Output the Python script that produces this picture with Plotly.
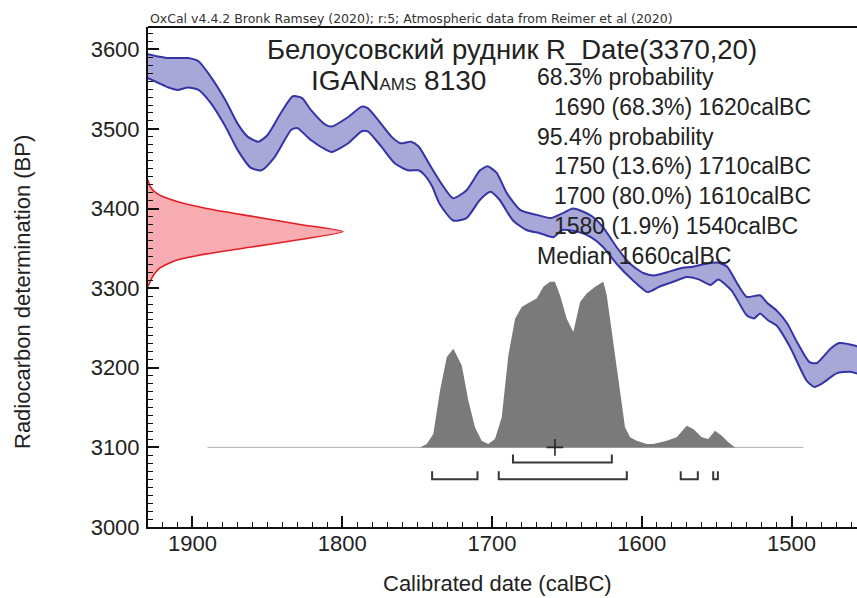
import plotly.graph_objects as go

# ---------------- data ----------------
# Calibration curve envelope (calBC year, BP)
up_year = [1930, 1923, 1916, 1903, 1896, 1888, 1878, 1870, 1863, 1856, 1850, 1841, 1833, 1827, 1821,
           1811, 1807, 1796, 1787, 1783, 1776, 1767, 1761, 1754, 1749, 1741, 1734, 1726, 1717, 1708,
           1703, 1697, 1690, 1681, 1670, 1661, 1653, 1646, 1639, 1633, 1626, 1617, 1608, 1599, 1592,
           1583, 1574, 1566, 1556, 1549, 1543, 1536, 1530, 1521, 1516, 1510, 1503, 1496, 1488, 1483,
           1474, 1468, 1458, 1455]
up_bp = [3594, 3591, 3589, 3589, 3585, 3566, 3536, 3507, 3490, 3484, 3492, 3520, 3541, 3539, 3524,
         3505, 3503, 3515, 3528, 3526, 3511, 3490, 3482, 3484, 3478, 3453, 3432, 3413, 3423, 3448,
         3453, 3445, 3419, 3398, 3392, 3388, 3394, 3400, 3396, 3390, 3377, 3352, 3331, 3319, 3316,
         3320, 3325, 3327, 3331, 3332, 3327, 3305, 3289, 3291, 3281, 3272, 3256, 3231, 3207, 3206,
         3224, 3231, 3228, 3226]
lo_year = [1930, 1923, 1916, 1910, 1903, 1896, 1888, 1878, 1870, 1861, 1854, 1845, 1834, 1830, 1821,
           1811, 1807, 1796, 1787, 1783, 1774, 1765, 1756, 1749, 1745, 1740, 1735, 1726, 1717, 1708,
           1701, 1695, 1686, 1677, 1668, 1659, 1653, 1643, 1634, 1626, 1617, 1606, 1596, 1588, 1579,
           1570, 1562, 1554, 1549, 1540, 1530, 1525, 1521, 1516, 1510, 1501, 1490, 1485, 1479, 1470,
           1461, 1455]
lo_bp = [3564, 3558, 3552, 3549, 3552, 3549, 3533, 3503, 3474, 3451, 3448, 3465, 3499, 3501, 3486,
         3474, 3471, 3482, 3497, 3497, 3478, 3457, 3448, 3448, 3442, 3428, 3406, 3385, 3388, 3411,
         3421, 3411, 3385, 3373, 3369, 3364, 3373, 3371, 3364, 3352, 3331, 3310, 3295, 3302, 3308,
         3314, 3311, 3304, 3311, 3297, 3266, 3262, 3268, 3260, 3253, 3226, 3184, 3176, 3181, 3193,
         3195, 3192]

# Radiocarbon date R_Date(3370,20): relative probability along BP
rdate_bp = [3436, 3428, 3419, 3409, 3400, 3390, 3380, 3371, 3361, 3352, 3343, 3335, 3325, 3313, 3302]
rdate_rel = [0.0, 0.01, 0.045, 0.145, 0.30, 0.54, 0.78, 1.0, 0.78, 0.54, 0.30, 0.145, 0.06, 0.02, 0.0]

# Calibrated date distribution (relative probability)
cal_year = [1748, 1743.6, 1739.2, 1734.7, 1730.2, 1725.8, 1720.2, 1715.8, 1711.4, 1706.9, 1702.5, 1698,
            1693.5, 1689.1, 1684.6, 1680.2, 1674.6, 1670.2, 1665.7, 1661.3, 1658, 1654.6, 1650.1,
            1645.7, 1641.2, 1636.8, 1631.2, 1625.7, 1623.4, 1619, 1614.5, 1611.2, 1607.8, 1603.4,
            1596.7, 1592.3, 1583.3, 1576.7, 1570, 1565.6, 1560, 1555.6, 1551.1, 1546.6, 1542.2, 1537.7]
cal_rel = [0.0, 0.02, 0.08, 0.34, 0.54, 0.59, 0.49, 0.28, 0.12, 0.04, 0.02, 0.05, 0.18, 0.55, 0.77,
           0.84, 0.87, 0.89, 0.96, 0.99, 0.99, 0.91, 0.77, 0.69, 0.87, 0.92, 0.96, 0.99, 0.91, 0.63,
           0.32, 0.12, 0.06, 0.04, 0.02, 0.02, 0.04, 0.06, 0.13, 0.11, 0.06, 0.05, 0.10, 0.07, 0.03, 0.0]
cal_base_range = [1890, 1492]
cal_median = 1658

# Highest probability density ranges (as drawn)
hpd68_from = [1686]
hpd68_to = [1620]
hpd95_from = [1740, 1695.5, 1574, 1552.3]
hpd95_to = [1709.7, 1610, 1562.6, 1549.2]

# Text
caption = "OxCal v4.4.2 Bronk Ramsey (2020); r:5; Atmospheric data from Reimer et al (2020)"
title1 = "Белоусовский рудник R_Date(3370,20)"
title2 = "IGAN<span style='font-size:17px'>AMS</span> 8130"
stats_lines = ["68.3% probability", "1690 (68.3%) 1620calBC", "95.4% probability",
               "1750 (13.6%) 1710calBC", "1700 (80.0%) 1610calBC", "1580 (1.9%) 1540calBC",
               "Median 1660calBC"]
stats_indent = [False, True, False, True, True, True, False]
x_title = "Calibrated date (calBC)"
y_title = "Radiocarbon determination (BP)"
x_ticks = [1900, 1800, 1700, 1600, 1500]
y_ticks = [3000, 3100, 3200, 3300, 3400, 3500, 3600]

# ---------------- layout constants ----------------
W, H = 857, 598
L, R, T, B = 148, 0, 27, 71
X_RANGE = [1929.7, 1456.3]
Y_RANGE = [3000, 3628]
BASE_BP = 3100
CAL_H = 210
RDATE_W = 130.2
FONT = "Liberation Sans, Arial, sans-serif"


def px(x):
    return (x - L) / (W - L - R)


def py(y):
    return (H - B - y) / (H - T - B)


fig = go.Figure()

# calibration band fill
fig.add_trace(go.Scatter(
    x=up_year + lo_year[::-1], y=up_bp + lo_bp[::-1], mode="lines",
    line=dict(width=0, shape="spline", smoothing=0.6), fill="toself",
    fillcolor="rgb(168,168,216)", hoverinfo="skip", showlegend=False))
for xs, ys in ((up_year, up_bp), (lo_year, lo_bp)):
    fig.add_trace(go.Scatter(x=xs, y=ys, mode="lines",
                             line=dict(color="rgb(52,52,165)", width=2, shape="spline", smoothing=0.6),
                             showlegend=False))

# radiocarbon date on the y axis
rx = [X_RANGE[0] - r * RDATE_W for r in rdate_rel]
fig.add_trace(go.Scatter(
    x=[X_RANGE[0]] + rx + [X_RANGE[0]], y=[rdate_bp[0]] + rdate_bp + [rdate_bp[-1]],
    mode="lines", fill="toself", fillcolor="rgb(246,172,176)",
    line=dict(color="rgb(228,30,38)", width=1.6, shape="spline", smoothing=0.6),
    showlegend=False))

# baseline of calibrated distribution
fig.add_trace(go.Scatter(x=cal_base_range, y=[BASE_BP, BASE_BP], mode="lines",
                         line=dict(color="rgb(175,175,175)", width=1), showlegend=False))

# calibrated distribution
fig.add_trace(go.Scatter(
    x=cal_year, y=[BASE_BP + r * CAL_H for r in cal_rel], mode="lines", fill="toself",
    fillcolor="rgb(122,122,122)", line=dict(width=0), showlegend=False))

# HPD brackets
def brackets(froms, tos, ybot, ytop):
    xs, ys = [], []
    for a, b in zip(froms, tos):
        xs += [a, a, b, b, None]
        ys += [ytop, ybot, ybot, ytop, None]
    return xs, ys

bx, by = brackets(hpd68_from, hpd68_to, 3081, 3091)
fig.add_trace(go.Scatter(x=bx, y=by, mode="lines", line=dict(color="rgb(55,55,55)", width=2),
                         showlegend=False))
bx, by = brackets(hpd95_from, hpd95_to, 3060, 3070)
fig.add_trace(go.Scatter(x=bx, y=by, mode="lines", line=dict(color="rgb(55,55,55)", width=2),
                         showlegend=False))

# median marker
fig.add_trace(go.Scatter(x=[cal_median], y=[BASE_BP], mode="markers",
                         marker=dict(symbol="cross-thin", size=12,
                                     line=dict(color="rgb(40,40,40)", width=1.6)),
                         showlegend=False))

ann = []
ann.append(dict(text=caption, x=px(148), y=py(19), xanchor="left", yanchor="middle",
                font=dict(family="DejaVu Sans", size=12.5, color="#333")))
ann.append(dict(text=title1, x=px(512), y=py(49), xanchor="center", yanchor="middle",
                font=dict(family=FONT, size=27.5, color="#222")))
ann.append(dict(text=title2, x=px(398), y=py(80), xanchor="center", yanchor="middle",
                font=dict(family=FONT, size=28, color="#222")))
for i, (t, ind) in enumerate(zip(stats_lines, stats_indent)):
    ann.append(dict(text=t, x=px(552 if ind else 535), y=py(77 + i * 29.8), xanchor="left",
                    yanchor="middle", font=dict(family=FONT, size=23, color="#222")))
ann.append(dict(text=x_title, x=px(497), y=py(583), xanchor="center", yanchor="middle",
                font=dict(family=FONT, size=22, color="#222")))
ann.append(dict(text=y_title, x=px(22), y=py(292), xanchor="center", yanchor="middle",
                textangle=-90, font=dict(family=FONT, size=22, color="#222")))
for a in ann:
    a.update(xref="paper", yref="paper", showarrow=False)

axis_common = dict(showgrid=False, zeroline=False, showline=True, linewidth=2, linecolor="#111",
                   ticks="inside", ticklen=11, tickwidth=2, tickcolor="#111",
                   tickfont=dict(family=FONT, size=22, color="#222"))

fig.update_layout(
    width=W, height=H, margin=dict(l=L, r=R, t=T, b=B),
    paper_bgcolor="white", plot_bgcolor="white", showlegend=False,
    xaxis=dict(range=X_RANGE, tickvals=x_ticks, ticklabelstandoff=-4,
               minor=dict(dtick=10, tick0=1500, ticks="inside", ticklen=5, tickwidth=1, tickcolor="#111"),
               **axis_common),
    yaxis=dict(range=Y_RANGE, tickvals=y_ticks, ticklabelstandoff=2,
               minor=dict(dtick=10, tick0=3000, ticks="inside", ticklen=5, tickwidth=1, tickcolor="#111"),
               **axis_common),
    annotations=ann,
    shapes=[dict(type="line", xref="paper", yref="paper", x0=0, x1=1, y0=1, y1=1,
                 line=dict(color="#111", width=2))],
)

fig.write_html("out.html")
